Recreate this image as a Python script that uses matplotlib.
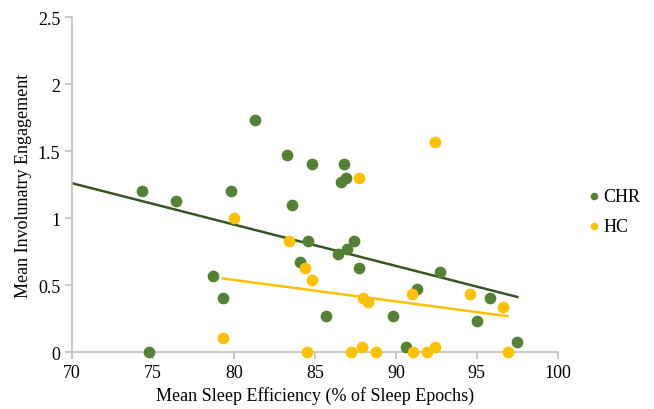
import numpy as np
import matplotlib
matplotlib.use("Agg")
import matplotlib.pyplot as plt

plt.rcParams['font.family'] = ['Liberation Serif', 'DejaVu Serif']

# CHR group: sleep efficiency vs involuntary engagement
chr_x = [74.3, 76.4, 79.8, 81.3, 83.3, 83.6, 84.8, 86.8, 86.9, 86.6,
         78.7, 79.3, 74.75, 84.1, 84.6, 86.4, 87.0, 87.4, 87.75, 85.7,
         89.8, 90.6, 91.3, 92.75, 95.0, 95.8, 97.5]
chr_y = [1.20, 1.13, 1.20, 1.73, 1.47, 1.10, 1.40, 1.40, 1.30, 1.27,
         0.57, 0.40, 0.00, 0.67, 0.83, 0.73, 0.77, 0.83, 0.63, 0.27,
         0.27, 0.035, 0.47, 0.60, 0.23, 0.40, 0.075]

# HC group
hc_x = [80.0, 83.4, 84.4, 84.8, 79.3, 84.5, 87.7, 92.4, 88.0, 88.3,
        87.25, 87.9, 88.8, 91.0, 91.05, 91.9, 92.4, 94.6, 96.6, 96.9]
hc_y = [1.00, 0.83, 0.63, 0.535, 0.105, 0.00, 1.30, 1.57, 0.40, 0.375,
        0.00, 0.035, 0.00, 0.435, 0.00, 0.00, 0.035, 0.435, 0.333, 0.00]

green = '#548235'
yellow = '#FFC000'

fig = plt.figure(figsize=(6.54, 4.10), dpi=100)
ax = fig.add_axes([0.110, 0.139, 0.743, 0.817])

ax.scatter(chr_x, chr_y, s=55, color=green, label='CHR', zorder=3, clip_on=False)
ax.scatter(hc_x, hc_y, s=55, color=yellow, label='HC', zorder=3, clip_on=False)

# linear trendlines
m, b = np.polyfit(chr_x, chr_y, 1)
xs = np.array([70, max(chr_x)])
ax.plot(xs, m * xs + b, color='#375623', lw=1.8, zorder=2)
m2, b2 = np.polyfit(hc_x, hc_y, 1)
xs2 = np.array([min(hc_x), max(hc_x)])
ax.plot(xs2, m2 * xs2 + b2, color=yellow, lw=1.8, zorder=2)

ax.set_xlim(70, 100)
ax.set_ylim(0, 2.5)
ax.set_xticks(range(70, 101, 5))
ax.set_yticks([0, 0.5, 1, 1.5, 2, 2.5])
ax.set_yticklabels(['0', '0.5', '1', '1.5', '2', '2.5'])

for s in ['top', 'right']:
    ax.spines[s].set_visible(False)
for s in ['left', 'bottom']:
    ax.spines[s].set_color('#BFBFBF')
    ax.spines[s].set_linewidth(1.2)
ax.tick_params(colors='#BFBFBF', length=5, width=1.2, labelcolor='black', labelsize=13)

ax.set_xlabel('Mean Sleep Efficiency (% of Sleep Epochs)', fontsize=13)
ax.set_ylabel('Mean Involunatry Engagement', fontsize=13)

ax.legend(loc='center left', bbox_to_anchor=(1.045, 0.42), frameon=False,
          fontsize=13, handletextpad=0.1, handlelength=0.8, borderaxespad=0,
          markerscale=0.6, labelspacing=0.75)

plt.savefig('out.png', dpi=100)
